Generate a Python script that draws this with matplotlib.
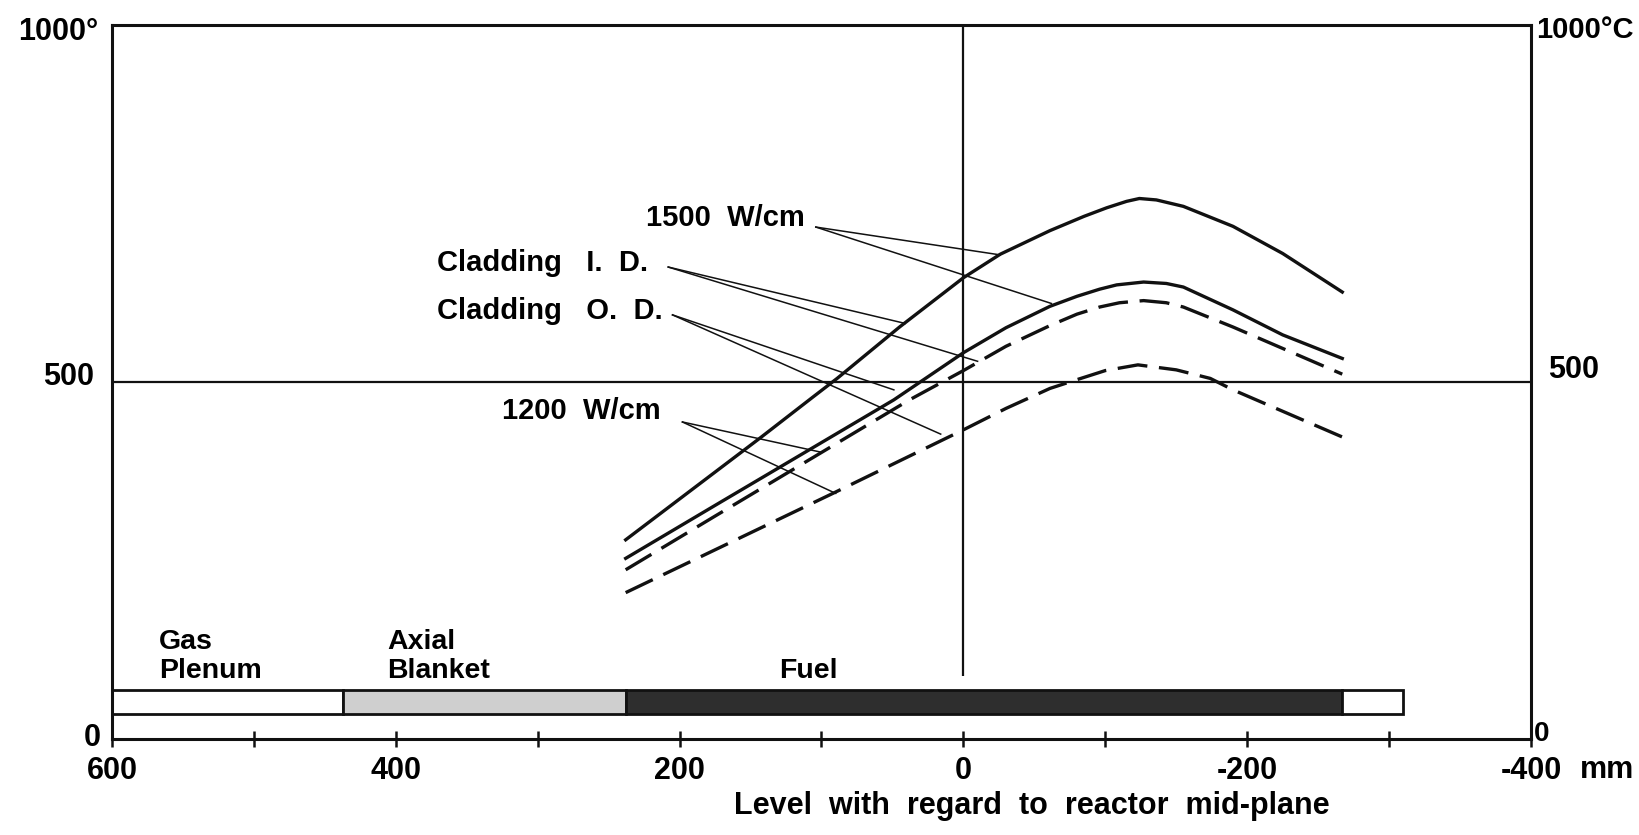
import matplotlib
matplotlib.use('Agg')
import matplotlib.pyplot as plt

plt.rcParams['font.family'] = ['Liberation Sans', 'DejaVu Sans']
plt.rcParams['font.weight'] = 'bold'

#Level with regard to reactor mid-plane [mm] and cladding temperature [deg C]
#Solid = 1500 W/cm, dashed = 1200 W/cm
lvl_1500_id = [238, 143, 106, 89, 45, 0, -26, -61, -85, -101, -115, -124, -136, -155, -190, -225, -267]
temp_1500_id = [279, 422, 479, 505, 577, 646, 679, 712, 732, 744, 753, 757, 755, 746, 718, 680, 626]

lvl_1500_od = [238, 176, 49, 0, -30, -61, -80, -96, -108, -127, -143, -155, -190, -225, -267]
temp_1500_od = [253, 326, 475, 541, 576, 606, 620, 630, 636, 640, 638, 633, 601, 566, 533]

lvl_1200_id = [238, 176, 38, 0, -30, -61, -80, -96, -110, -127, -143, -155, -190, -225, -267]
temp_1200_id = [237, 311, 475, 516, 550, 579, 595, 605, 611, 614, 611, 605, 577, 547, 511]

lvl_1200_od = [238, 92, 0, -30, -61, -78, -100, -123, -150, -174, -190, -225, -267]
temp_1200_od = [205, 344, 433, 463, 491, 502, 516, 524, 517, 505, 489, 459, 423]

#Pin zones along the bar: edges in mm
zone_edges = [600, 437, 238, -267, -310]
zone_colors = ['white', '#cfcfcf', '#2e2e2e', 'white']
zone_names = ['Gas\nPlenum', 'Axial\nBlanket', 'Fuel']
zone_name_x = [567, 406, 130]

x_ticks = [600, 400, 200, 0, -200, -400]
x_minor = [500, 300, 100, -100, -300]

ink = '#111111'

fig = plt.figure(figsize=(16.4, 8.35), dpi=100)
ax = fig.add_axes([112/1640, 1 - 739/835, (1531 - 112)/1640, (739 - 25)/835])
ax.set_xlim(600, -400)
ax.set_ylim(0, 1000)

for s in ax.spines.values():
    s.set_linewidth(2.2)
    s.set_color(ink)

ax.set_xticks(x_ticks)
ax.set_xticklabels([str(v) for v in x_ticks])
ax.set_xticks(x_minor, minor=True)
ax.tick_params(axis='x', which='both', direction='inout', length=12, width=1.8, color=ink)
ax.tick_params(axis='x', which='major', labelsize=22, pad=6)
ax.set_yticks([])

#Reference lines
ax.axhline(500, color=ink, lw=1.6)
ax.vlines(0, 88, 1000, color=ink, lw=1.6)

#Temperature curves
ax.plot(lvl_1500_id, temp_1500_id, '-', color=ink, lw=2.4)
ax.plot(lvl_1500_od, temp_1500_od, '-', color=ink, lw=2.4)
ax.plot(lvl_1200_id, temp_1200_id, color=ink, lw=2.4, ls=(0, (9, 3.5)))
ax.plot(lvl_1200_od, temp_1200_od, color=ink, lw=2.4, ls=(0, (9, 3.5)))

#Pin layout bar
for i in range(len(zone_colors)):
    ax.barh(52, zone_edges[i+1] - zone_edges[i], left=zone_edges[i], height=34,
            color=zone_colors[i], edgecolor=ink, lw=2.0)
ax.text(zone_name_x[0], 115, zone_names[0], fontsize=20.5, ha='left', va='center', linespacing=1.15)
ax.text(zone_name_x[1], 115, zone_names[1], fontsize=20.5, ha='left', va='center', linespacing=1.15)
ax.text(zone_name_x[2], 95, zone_names[2], fontsize=20.5, ha='left', va='center')

#Labels with leader lines
labels = [('1500  W/cm', 224, 730, (104, 717), [(-26, 678), (-62, 610)]),
          ('Cladding   I.  D.', 371, 667, (208, 661), [(41, 582), (-10, 529)]),
          ('Cladding   O.  D.', 371, 600, (205, 594), [(49, 489), (16, 427)]),
          ('1200  W/cm', 325, 459, (198, 444), [(101, 402), (90, 344)])]
for txt, tx, ty, start, ends in labels:
    ax.text(tx, ty, txt, fontsize=21, ha='left', va='center')
    for e in ends:
        ax.plot([start[0], e[0]], [start[1], e[1]], color=ink, lw=1.1)

#Temperature scale labels (both sides)
fig.text(98/1640, 1 - 32/835, '1000°', fontsize=22, ha='right', va='center')
fig.text(94/1640, 1 - 377/835, '500', fontsize=22, ha='right', va='center')
fig.text(101/1640, 1 - 738/835, '0', fontsize=22, ha='right', va='center')
fig.text(1536/1640, 1 - 30/835, '1000°C', fontsize=21, ha='left', va='center')
fig.text(1548/1640, 1 - 370/835, '500', fontsize=22, ha='left', va='center')
fig.text(1534/1640, 1 - 734/835, '0', fontsize=20, ha='left', va='center')

fig.text(1580/1640, 1 - 770/835, 'mm', fontsize=22, ha='left', va='center')
fig.text(1032/1640, 1 - 806/835, 'Level  with  regard  to  reactor  mid-plane', fontsize=22, ha='center', va='center')

fig.savefig('out.png', dpi=100, facecolor='white')
